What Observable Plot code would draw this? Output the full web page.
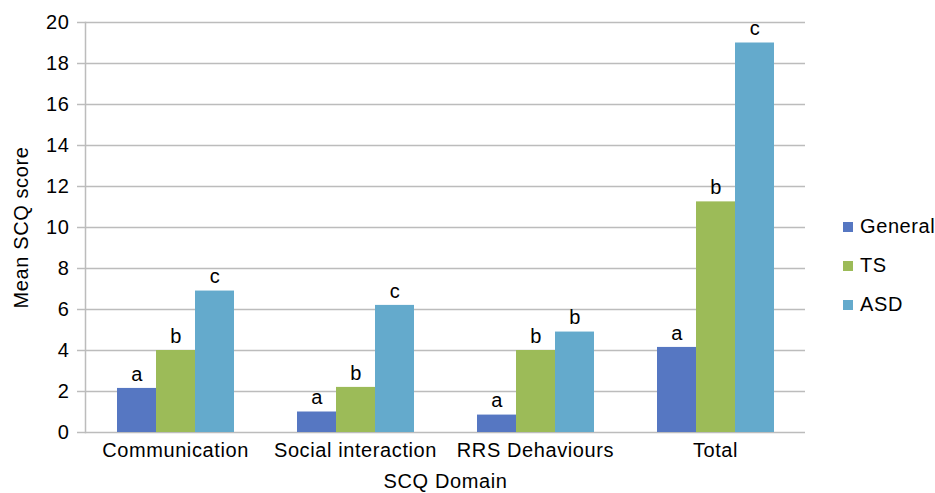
<!DOCTYPE html>
<html>
<head>
<meta charset="utf-8">
<script src="https://cdn.jsdelivr.net/npm/d3@7"></script>
<script src="https://cdn.jsdelivr.net/npm/@observablehq/plot@0.6"></script>
<style>
  html, body { margin: 0; padding: 0; background: #fff; }
  #wrap { position: relative; width: 935px; height: 493px; font-family: "Liberation Sans", Arial, sans-serif; }
  #chart svg text { font-family: "Liberation Sans", Arial, sans-serif; letter-spacing: 0.6px; }
  #legend { position: absolute; left: 843px; top: 207px; font-size: 20px; color: #000; letter-spacing: 0.6px; }
  #legend .item { display: flex; align-items: center; height: 39px; }
  #legend .sw { width: 10px; height: 10px; margin-right: 7px; }
</style>
</head>
<body>
<div id="wrap"><div id="chart"></div><div id="legend"></div></div>
<script>
const domains = ["Communication", "Social interaction", "RRS Dehaviours", "Total"];
const groups = ["General", "TS", "ASD"];
const colors = ["#5677C2", "#9CBB58", "#64AACC"];
const general = [2.15, 1.0, 0.85, 4.15];
const ts = [4.0, 2.2, 4.0, 11.25];
const asd = [6.9, 6.2, 4.9, 19.0];
const letterGeneral = ["a", "a", "a", "a"];
const letterTS = ["b", "b", "b", "b"];
const letterASD = ["c", "c", "b", "c"];
const yTicks = [0, 2, 4, 6, 8, 10, 12, 14, 16, 18, 20];

const series = [general, ts, asd];
const letters = [letterGeneral, letterTS, letterASD];
const data = [];
domains.forEach((d, i) => {
  groups.forEach((g, j) => {
    data.push({domain: d, group: g, value: series[j][i], letter: letters[j][i]});
  });
});

const chart = Plot.plot({
  width: 935,
  height: 493,
  marginLeft: 83,
  marginRight: 129,
  marginTop: 22,
  marginBottom: 61,
  style: {fontSize: "20px", fontFamily: "Liberation Sans, Arial, sans-serif", color: "#000"},
  fx: {domain: domains, paddingInner: 0, paddingOuter: 0, axis: null},
  x: {domain: groups, paddingInner: 0, paddingOuter: 0.76, axis: null},
  y: {domain: [0, 20], axis: null},
  color: {domain: groups, range: colors},
  marks: [
    Plot.gridY(yTicks, {stroke: "#bcbcbc", strokeOpacity: 1, strokeWidth: 1.5}),
    Plot.frame({anchor: "left", facetAnchor: "left", stroke: "#bcbcbc", strokeWidth: 1.5}),
    Plot.axisY(yTicks, {tickSize: 8, tickPadding: 8, stroke: "#bcbcbc", strokeOpacity: 1, strokeWidth: 1.5, fontSize: 20,
      label: "Mean SCQ score", labelAnchor: "center", labelArrow: "none", labelOffset: 72}),
    Plot.barY(data, {fx: "domain", x: "group", y: "value", fill: "group"}),
    Plot.text(data, {fx: "domain", x: "group", y: "value", text: "letter", dy: -14, fontSize: 20}),
    Plot.axisFx({anchor: "bottom", tickSize: 0, tickPadding: 10, fontSize: 20,
      label: "SCQ Domain", labelAnchor: "center", labelArrow: "none", labelOffset: 55})
  ]
});
document.getElementById("chart").appendChild(chart);

const legend = document.getElementById("legend");
groups.forEach((g, i) => {
  const item = document.createElement("div");
  item.className = "item";
  item.innerHTML = `<span class="sw" style="background:${colors[i]}"></span><span>${g}</span>`;
  legend.appendChild(item);
});
</script>
</body>
</html>
